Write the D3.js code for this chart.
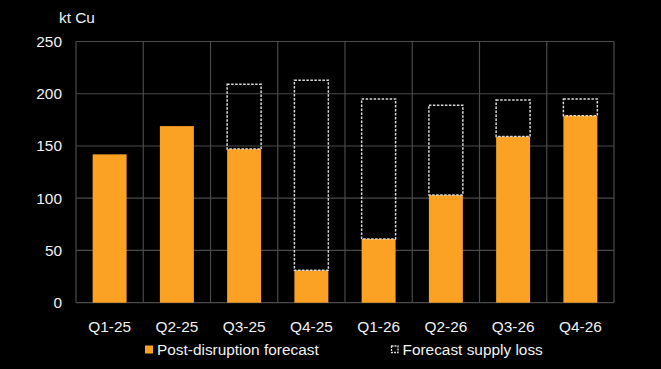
<!DOCTYPE html>
<html>
<head>
<meta charset="utf-8">
<script src="https://cdn.jsdelivr.net/npm/d3@7"></script>
<style>
  html, body { margin: 0; padding: 0; background: #000; }
  svg { display: block; font-family: "Liberation Sans", Arial, sans-serif; }
</style>
</head>
<body>
<svg id="chart" width="661" height="369"></svg>
<script>
const quarters = ["Q1-25", "Q2-25", "Q3-25", "Q4-25", "Q1-26", "Q2-26", "Q3-26", "Q4-26"]
const postDisruption = [142, 169, 147, 31, 61, 103, 159, 179]
const supplyLoss = [0, 0, 62, 182, 134, 86, 35, 16]
const yTicks = [0, 50, 100, 150, 200, 250]

const svg = d3.select("#chart")
const margin = { top: 41.5, right: 47, bottom: 66.3, left: 76 }
const width = 661 - margin.left - margin.right
const height = 369 - margin.top - margin.bottom
const fontSize = 15.4
const textColor = "#f2f2f2"

const x = d3.scaleBand().domain(quarters).range([0, width]).padding(0)
const y = d3.scaleLinear().domain([0, 250]).range([height, 0])
const barW = x.bandwidth() * 0.505
const barX = (i) => x(quarters[i]) + (x.bandwidth() - barW) / 2

const g = svg.append("g").attr("transform", `translate(${margin.left},${margin.top})`)

// horizontal grid
g.selectAll("line.hgrid").data(yTicks).enter().append("line")
  .attr("class", "hgrid")
  .attr("x1", 0).attr("x2", width)
  .attr("y1", (d) => y(d)).attr("y2", (d) => y(d))
  .attr("stroke", "#4a4a4a").attr("stroke-width", 1.2)

// vertical grid at category boundaries
const bounds = quarters.map((q) => x(q)).concat([width])
g.selectAll("line.vgrid").data(bounds).enter().append("line")
  .attr("class", "vgrid")
  .attr("x1", (d) => d).attr("x2", (d) => d)
  .attr("y1", 0).attr("y2", height)
  .attr("stroke", "#4a4a4a").attr("stroke-width", 1.2)

// orange bars
g.selectAll("rect.post").data(postDisruption).enter().append("rect")
  .attr("class", "post")
  .attr("x", (d, i) => barX(i))
  .attr("y", (d) => y(d))
  .attr("width", barW)
  .attr("height", (d) => y(0) - y(d))
  .attr("fill", "#fba225")

// dashed supply-loss boxes stacked on top
const lossData = supplyLoss.map((d, i) => ({ i, base: postDisruption[i], loss: d })).filter((d) => d.loss > 0)
g.selectAll("rect.loss").data(lossData).enter().append("rect")
  .attr("class", "loss")
  .attr("x", (d) => barX(d.i))
  .attr("y", (d) => y(d.base + d.loss))
  .attr("width", barW)
  .attr("height", (d) => y(d.base) - y(d.base + d.loss))
  .attr("fill", "none")
  .attr("stroke", "#d9d9d9")
  .attr("stroke-width", 1.5)
  .attr("stroke-dasharray", "2.5,1.5")

// y axis labels
g.selectAll("text.ytick").data(yTicks).enter().append("text")
  .attr("class", "ytick")
  .attr("x", -14).attr("y", (d) => y(d)).attr("dy", "0.35em")
  .attr("text-anchor", "end").attr("fill", textColor).attr("font-size", fontSize)
  .text((d) => d)

// x axis labels
g.selectAll("text.xtick").data(quarters).enter().append("text")
  .attr("class", "xtick")
  .attr("x", (d) => x(d) + x.bandwidth() / 2).attr("y", height + 29)
  .attr("text-anchor", "middle").attr("fill", textColor).attr("font-size", fontSize)
  .text((d) => d)

// unit label
svg.append("text").attr("x", 59).attr("y", 23)
  .attr("fill", textColor).attr("font-size", fontSize).text("kt Cu")

// legend
const legend = svg.append("g")
legend.append("rect").attr("x", 145).attr("y", 345.5).attr("width", 8).attr("height", 8).attr("fill", "#fba225")
legend.append("text").attr("x", 157).attr("y", 355).attr("fill", textColor).attr("font-size", fontSize).text("Post-disruption forecast")
legend.append("rect").attr("x", 391.5).attr("y", 346).attr("width", 6.5).attr("height", 6.5)
  .attr("fill", "none").attr("stroke", "#d9d9d9").attr("stroke-width", 1.3).attr("stroke-dasharray", "2,1")
legend.append("text").attr("x", 402.5).attr("y", 355).attr("fill", textColor).attr("font-size", fontSize).text("Forecast supply loss")
</script>
</body>
</html>
